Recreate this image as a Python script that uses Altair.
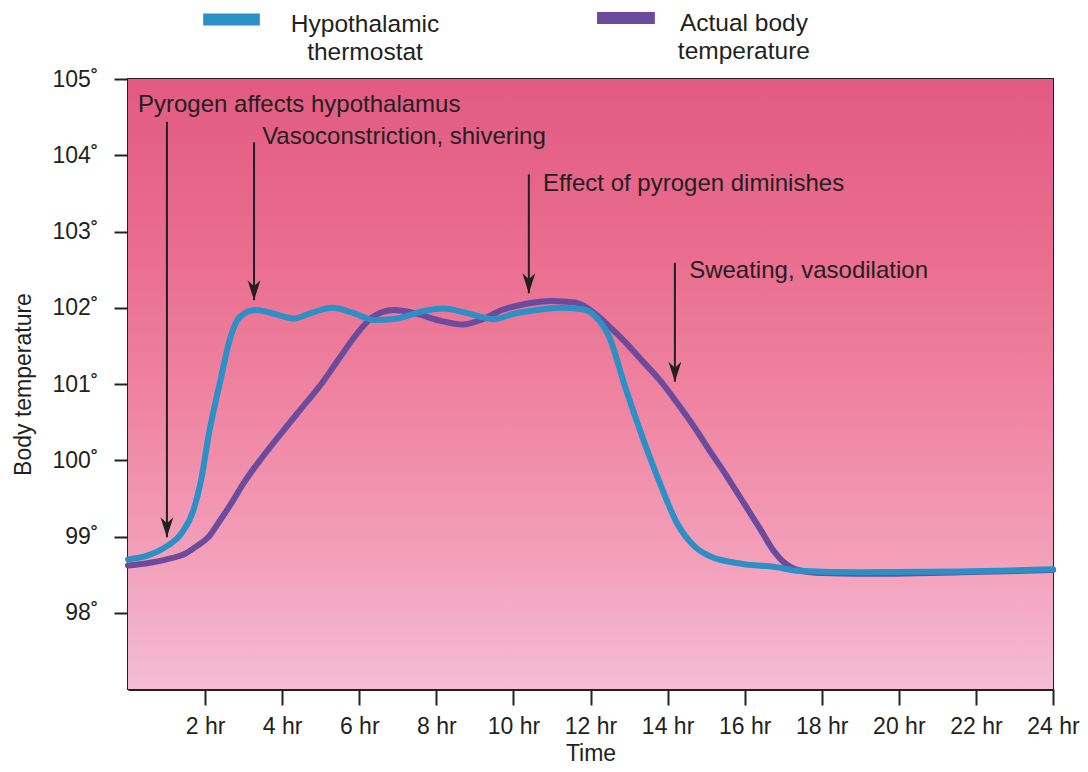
import altair as alt
import pandas as pd

# ---- data ----
hours_thermostat = [0, 0.5, 1.0, 1.4, 1.7, 1.9, 2.1, 2.4, 2.65, 2.9, 3.3, 3.8, 4.3, 4.8, 5.3,
                    5.8, 6.4, 7.0, 7.6, 8.2, 8.8, 9.5, 10.0, 10.6, 11.2, 11.8, 12.1, 12.5,
                    12.9, 13.35, 13.8, 14.25, 14.7, 15.1, 15.95, 16.8, 17.4, 19, 21.6, 24]
temp_thermostat = [98.70, 98.75, 98.87, 99.05, 99.35, 99.75, 100.35, 101.05, 101.6, 101.88,
                   101.97, 101.92, 101.86, 101.94, 102.0, 101.94, 101.84, 101.86, 101.95,
                   101.99, 101.93, 101.85, 101.92, 101.97, 102.0, 101.98, 101.9, 101.6,
                   100.96, 100.3, 99.7, 99.17, 98.87, 98.74, 98.64, 98.6, 98.55, 98.53,
                   98.54, 98.57]

hours_body = [0, 0.5, 1.0, 1.5, 1.8, 2.1, 2.4, 2.7, 3.0, 3.5, 4.0, 4.5, 5.0, 5.5, 5.85, 6.35,
              6.9, 7.5, 8.1, 8.7, 9.2, 9.7, 10.3, 11.0, 11.6, 12.1, 12.5, 12.9, 13.35, 13.8,
              14.25, 14.7, 15.1, 15.55, 16.0, 16.4, 16.7, 17.0, 17.4, 18.0, 19, 21.6, 24]
temp_body = [98.62, 98.65, 98.70, 98.78, 98.88, 99.0, 99.22, 99.45, 99.7, 100.05, 100.37,
             100.68, 100.99, 101.35, 101.6, 101.88, 101.97, 101.92, 101.83, 101.78, 101.85,
             101.97, 102.05, 102.09, 102.07, 101.93, 101.75, 101.55, 101.3, 101.05, 100.75,
             100.43, 100.12, 99.78, 99.42, 99.1, 98.85, 98.67, 98.56, 98.52, 98.51, 98.53,
             98.56]

x_ticks = [2, 4, 6, 8, 10, 12, 14, 16, 18, 20, 22, 24]
y_ticks = [98, 99, 100, 101, 102, 103, 104, 105]

note_text = ["Pyrogen affects hypothalamus", "Vasoconstriction, shivering",
             "Effect of pyrogen diminishes", "Sweating, vasodilation"]
note_x = [0.26, 3.48, 10.77, 14.56]
note_y = [104.66, 104.24, 103.62, 102.48]
arrow_x = [1.01, 3.27, 10.40, 14.19]
arrow_top = [104.44, 104.17, 103.75, 102.59]
arrow_tip = [98.99, 102.10, 102.19, 101.03]

legend_names = ["Hypothalamic\nthermostat", "Actual body\ntemperature"]
legend_swatch_x1 = [1.95, 12.17]
legend_swatch_x2 = [3.42, 13.67]
legend_swatch_y = [105.78, 105.80]
legend_text_x = [6.15, 15.98]
legend_text_y = [105.86, 105.88]

BLUE = "#2b90c5"
PURPLE = "#6b4c9c"
INK = "#231f20"
FONT = "Liberation Sans"
XT = "Time"
YT = "Body temperature"

xs = alt.Scale(domain=[0, 24], nice=False, zero=False)
ys = alt.Scale(domain=[97, 105], nice=False, zero=False)

x_axis = alt.Axis(values=x_ticks, labelExpr="datum.value + ' hr'", grid=False,
                  labelFontSize=23, labelFont=FONT, labelColor=INK,
                  tickSize=16, tickWidth=2, tickColor="#222",
                  domainWidth=3, domainColor="#222", labelPadding=10,
                  titleFontSize=23, titleFont=FONT, titleColor=INK,
                  titleFontWeight="normal", titlePadding=4, labelFlush=False)
y_axis = alt.Axis(values=y_ticks, labelExpr="datum.value + '˚'", grid=False,
                  labelFontSize=23, labelFont=FONT, labelColor=INK,
                  tickSize=14, tickWidth=2, tickColor="#222",
                  domainWidth=3, domainColor="#222", labelPadding=16,
                  titleFontSize=23, titleFont=FONT, titleColor=INK,
                  titleFontWeight="normal", titlePadding=16, labelFlush=False)


def X(field):
    return alt.X(field, scale=xs, title=XT, axis=x_axis)


def Y(field):
    return alt.Y(field, scale=ys, title=YT, axis=y_axis)


bg_df = pd.DataFrame({"x": [0], "x2": [24], "y": [97], "y2": [105]})
background = alt.Chart(bg_df).mark_rect(
    fill=alt.LinearGradient(
        gradient="linear",
        stops=[alt.GradientStop(color="#e25a82", offset=0),
               alt.GradientStop(color="#ea6e90", offset=0.3),
               alt.GradientStop(color="#ef86a3", offset=0.55),
               alt.GradientStop(color="#f39fba", offset=0.78),
               alt.GradientStop(color="#f4bdd5", offset=1)],
        x1=0, x2=0, y1=0, y2=1)
).encode(x=X("x:Q"), x2="x2:Q", y=Y("y:Q"), y2="y2:Q")

body_df = pd.DataFrame({"h": hours_body, "t": temp_body})
thermo_df = pd.DataFrame({"h": hours_thermostat, "t": temp_thermostat})

body_line = alt.Chart(body_df).mark_line(
    color=PURPLE, strokeWidth=6, interpolate="monotone", strokeCap="round"
).encode(x=X("h:Q"), y=Y("t:Q"))

thermo_line = alt.Chart(thermo_df).mark_line(
    color=BLUE, strokeWidth=6, interpolate="monotone", strokeCap="round"
).encode(x=X("h:Q"), y=Y("t:Q"))

notes_df = pd.DataFrame({"text": note_text, "x": note_x, "y": note_y})
notes = alt.Chart(notes_df).mark_text(
    align="left", baseline="middle", fontSize=24, font=FONT, color=INK
).encode(x=X("x:Q"), y=Y("y:Q"), text="text:N")

arrows_df = pd.DataFrame({"x": arrow_x, "top": arrow_top, "tip": arrow_tip})
shafts = alt.Chart(arrows_df).mark_rule(color=INK, strokeWidth=2).encode(
    x=X("x:Q"), y=Y("top:Q"), y2="tip:Q")
heads = alt.Chart(arrows_df).mark_point(
    shape="M0,0L-0.32,-1L0,-0.7L0.32,-1Z", size=1600, filled=True, color=INK, opacity=1
).encode(x=X("x:Q"), y=Y("tip:Q"))

legend_df = pd.DataFrame({
    "name": legend_names, "x1": legend_swatch_x1, "x2": legend_swatch_x2,
    "sy": legend_swatch_y, "tx": legend_text_x, "ty": legend_text_y,
    "series": ["thermostat", "body"]})
swatches = alt.Chart(legend_df).mark_rule(strokeWidth=12).encode(
    x=X("x1:Q"), x2="x2:Q", y=Y("sy:Q"),
    color=alt.Color("series:N", scale=alt.Scale(domain=["thermostat", "body"],
                                                range=[BLUE, PURPLE]), legend=None))
legend_text = alt.Chart(legend_df).mark_text(
    align="center", baseline="top", fontSize=24.5, font=FONT, color=INK,
    lineBreak="\n", lineHeight=28
).encode(x=X("tx:Q"), y=Y("ty:Q"), text="name:N")

chart = alt.layer(
    background, body_line, thermo_line, shafts, heads, notes, swatches, legend_text
).properties(
    width=925, height=610,
    autosize=alt.AutoSizeParams(type="none"),
    padding={"left": 120, "top": 71, "right": 27, "bottom": 78},
    background="white",
).configure_view(stroke="#222", strokeWidth=2)

chart.save("out.html", embed_options={"renderer": "svg", "actions": False})
